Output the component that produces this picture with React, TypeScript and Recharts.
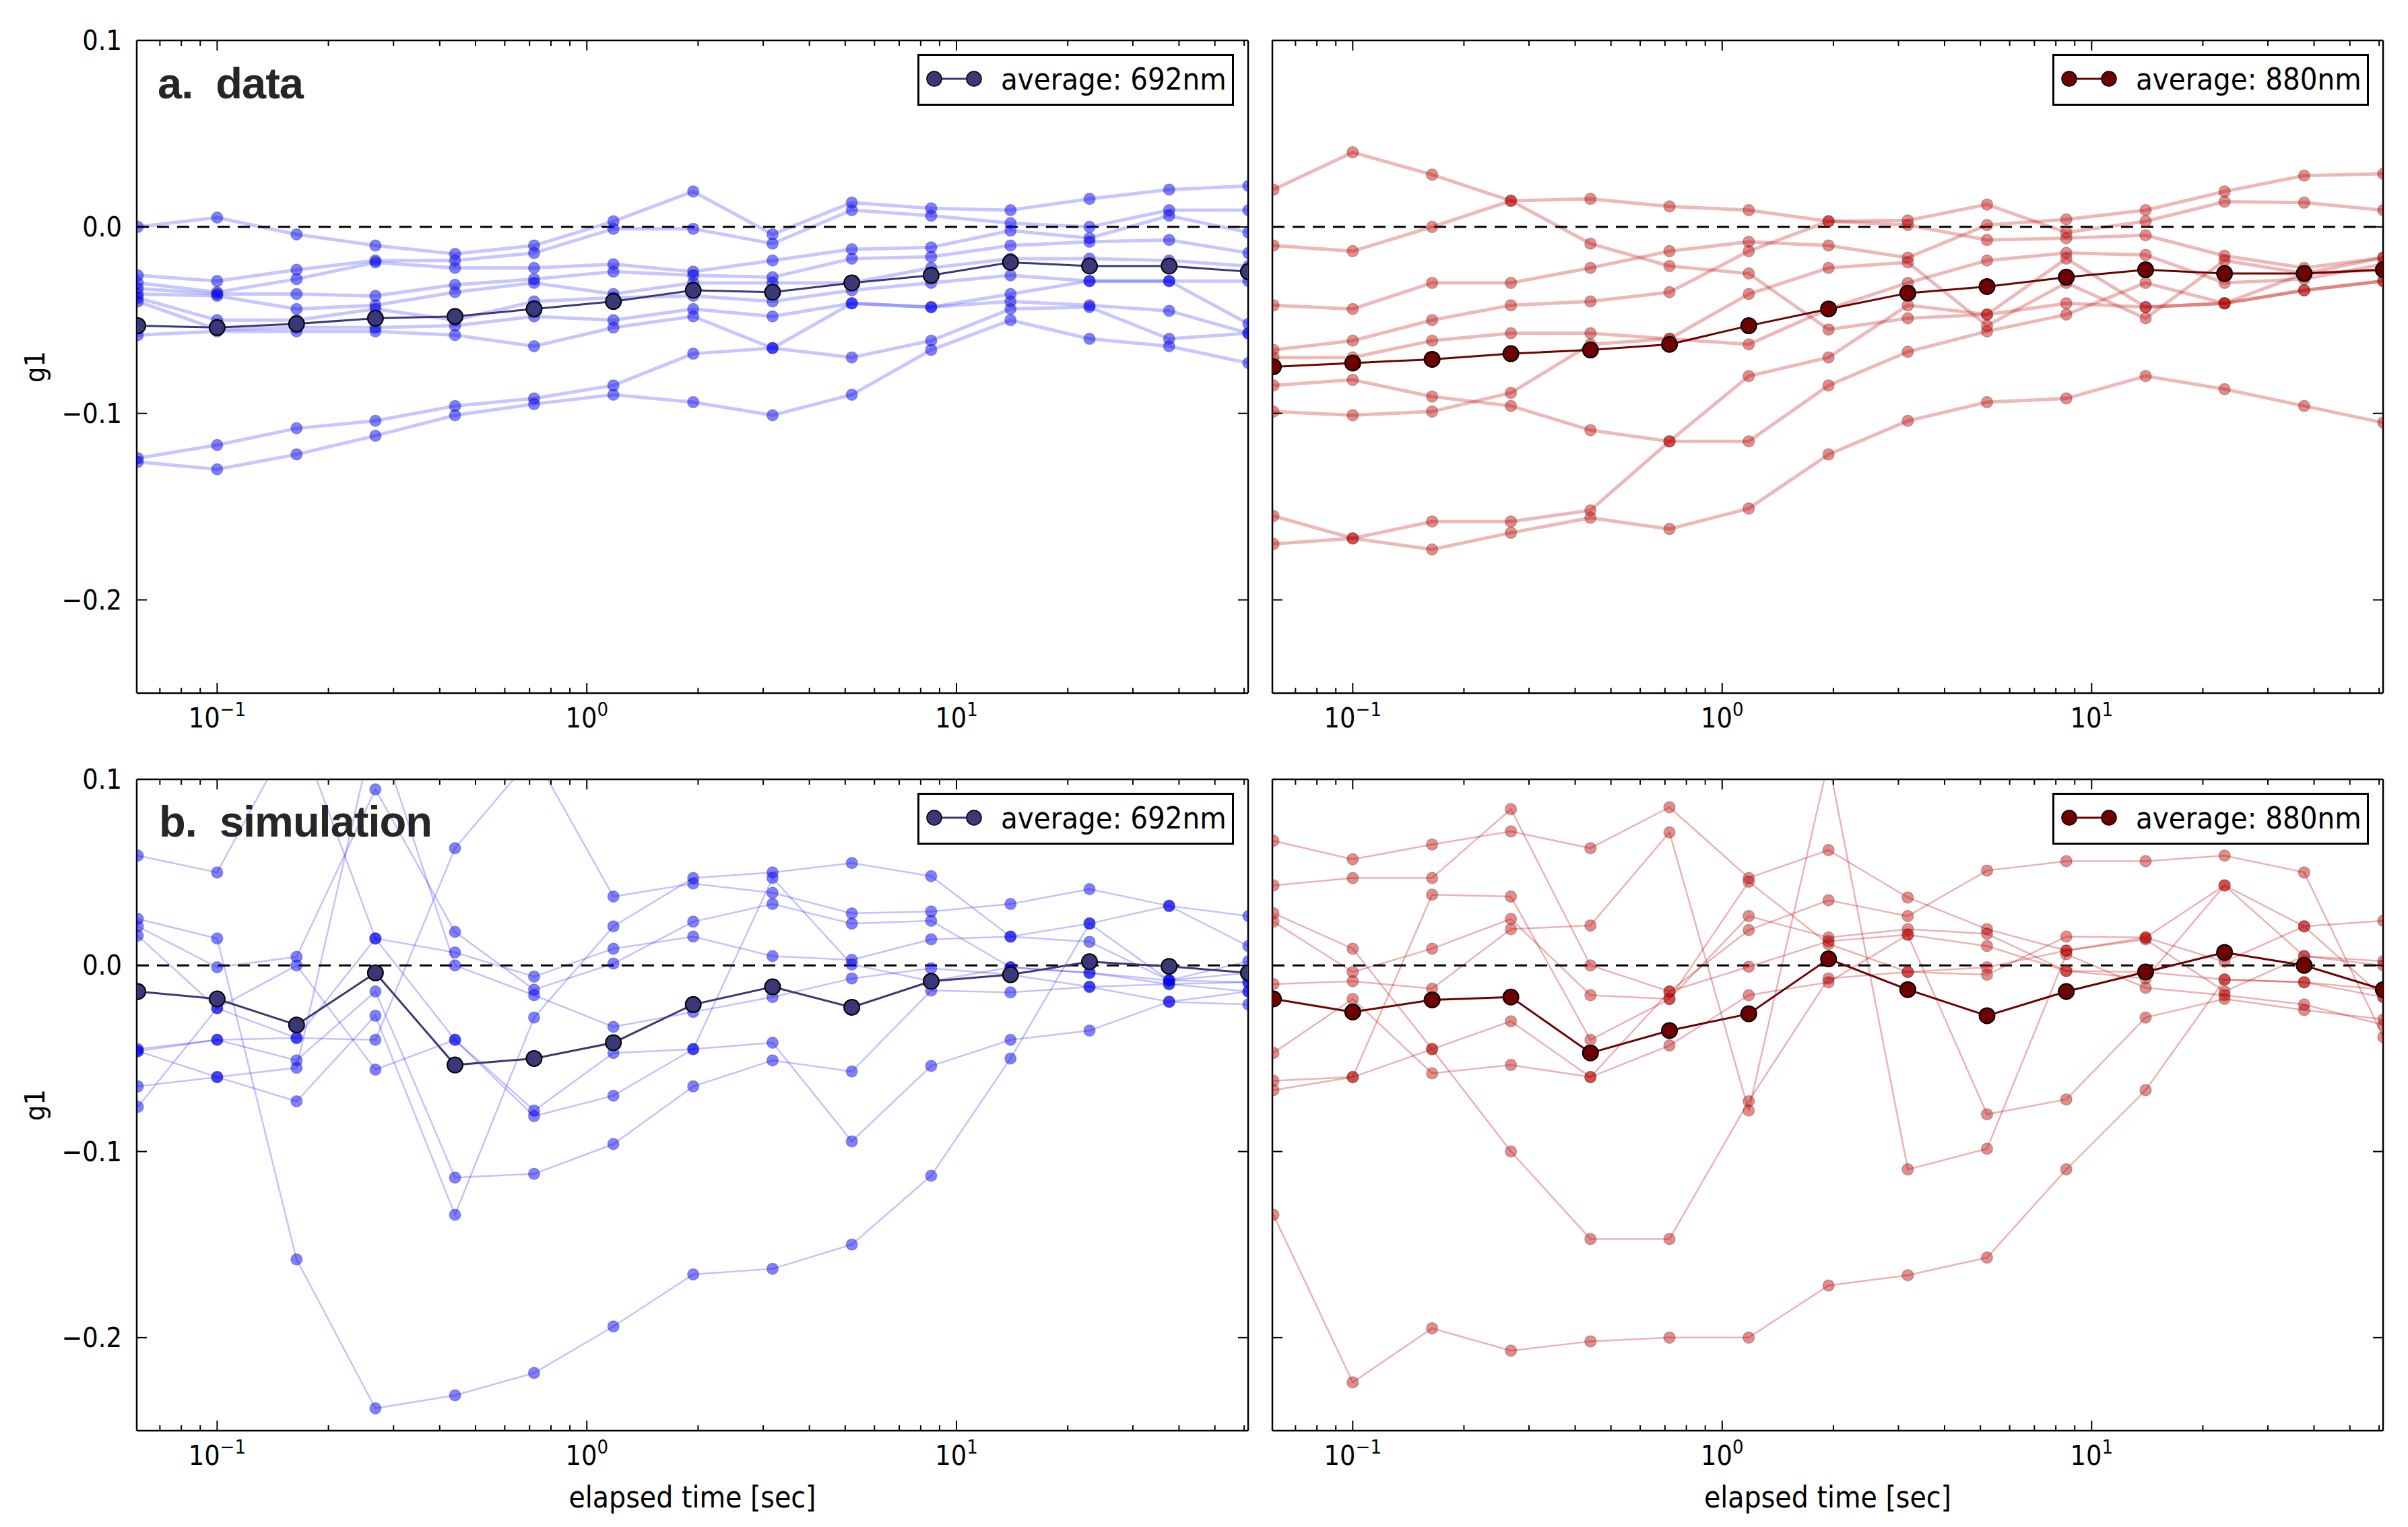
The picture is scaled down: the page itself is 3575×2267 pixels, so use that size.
import React from 'react';
import { LineChart, Line, XAxis, YAxis, ReferenceLine, Legend } from 'recharts';

// elapsed time [sec] of each sample
const times = [0.061, 0.1, 0.164, 0.268, 0.44, 0.72, 1.18, 1.94, 3.18, 5.21, 8.54, 14.0, 22.9, 37.6, 61.6];

const majorTicks = [0.1, 1, 10];
const minorTicks = [0.07, 0.08, 0.09, 0.2, 0.3, 0.4, 0.5, 0.6, 0.7, 0.8, 0.9, 2, 3, 4, 5, 6, 7, 8, 9, 20, 30, 40, 50, 60];
const yTicks = [-0.2, -0.1, 0, 0.1];

// a. data, 692nm
const dataBlueRuns = [
  [0.0, 0.005, -0.004, -0.01, -0.0145, -0.01, 0.003, 0.019, -0.004, 0.013, 0.01, 0.009, 0.015, 0.02, 0.022],
  [-0.026, -0.029, -0.023, -0.018, -0.018, -0.014, -0.001, -0.001, -0.009, 0.009, 0.006, 0.002, 0.0, 0.009, 0.009],
  [-0.03, -0.035, -0.028, -0.019, -0.022, -0.022, -0.02, -0.024, -0.018, -0.012, -0.011, -0.002, -0.006, 0.006, -0.003],
  [-0.033, -0.036, -0.036, -0.037, -0.031, -0.028, -0.024, -0.026, -0.027, -0.017, -0.016, -0.01, -0.008, -0.007, -0.014],
  [-0.036, -0.037, -0.044, -0.042, -0.035, -0.03, -0.036, -0.03, -0.03, -0.03, -0.022, -0.017, -0.017, -0.018, -0.021],
  [-0.038, -0.05, -0.05, -0.044, -0.05, -0.04, -0.038, -0.037, -0.04, -0.034, -0.03, -0.026, -0.029, -0.029, -0.029],
  [-0.04, -0.055, -0.054, -0.054, -0.053, -0.048, -0.05, -0.044, -0.048, -0.041, -0.043, -0.036, -0.029, -0.029, -0.052],
  [-0.058, -0.056, -0.056, -0.056, -0.058, -0.064, -0.054, -0.048, -0.065, -0.041, -0.043, -0.04, -0.042, -0.045, -0.057],
  [-0.124, -0.117, -0.108, -0.104, -0.096, -0.092, -0.085, -0.068, -0.065, -0.07, -0.061, -0.044, -0.043, -0.06, -0.057],
  [-0.126, -0.13, -0.122, -0.112, -0.101, -0.095, -0.09, -0.094, -0.101, -0.09, -0.066, -0.05, -0.06, -0.064, -0.073],
];
const dataBlueAvg = [-0.053, -0.054, -0.052, -0.049, -0.048, -0.044, -0.04, -0.034, -0.035, -0.03, -0.026, -0.019, -0.021, -0.021, -0.024];

// a. data, 880nm
const dataRedRuns = [
  [0.02, 0.04, 0.028, 0.014, -0.009, -0.021, -0.025, -0.055, -0.049, -0.047, -0.041, -0.043, -0.041, -0.034, -0.029],
  [-0.01, -0.013, 0.0, 0.014, 0.015, 0.011, 0.009, 0.003, 0.001, -0.007, -0.006, -0.0045, -0.0155, -0.022, -0.0165],
  [-0.042, -0.044, -0.03, -0.03, -0.022, -0.013, -0.008, -0.01, -0.0165, 0.001, 0.004, 0.009, 0.019, 0.0275, 0.0285],
  [-0.066, -0.061, -0.05, -0.042, -0.04, -0.035, -0.013, 0.003, 0.0035, 0.012, -0.003, 0.003, 0.0135, 0.013, 0.009],
  [-0.07, -0.07, -0.061, -0.057, -0.057, -0.06, -0.063, -0.044, -0.03, -0.018, -0.014, -0.015, -0.03, -0.028, -0.02],
  [-0.085, -0.082, -0.091, -0.096, -0.109, -0.115, -0.115, -0.085, -0.067, -0.056, -0.047, -0.03, -0.041, -0.025, -0.023],
  [-0.099, -0.101, -0.099, -0.089, -0.063, -0.06, -0.036, -0.022, -0.019, -0.053, -0.03, -0.049, -0.018, -0.025, -0.0165],
  [-0.155, -0.167, -0.158, -0.158, -0.152, -0.115, -0.08, -0.07, -0.042, -0.047, -0.017, -0.043, -0.041, -0.034, -0.029],
  [-0.17, -0.167, -0.173, -0.164, -0.156, -0.162, -0.151, -0.122, -0.104, -0.094, -0.092, -0.08, -0.087, -0.096, -0.105],
];
const dataRedAvg = [-0.075, -0.073, -0.071, -0.068, -0.066, -0.063, -0.053, -0.044, -0.0355, -0.032, -0.027, -0.023, -0.025, -0.025, -0.023];

// b. simulation, 692nm
const simBlueRuns = [
  [0.059, 0.05, 0.129, 0.0145, 0.007, -0.006, 0.009, 0.0155, 0.005, 0.003, 0.014, 0.0155, 0.0127, -0.008, 0.0023],
  [0.021, -0.001, 0.0046, 0.0946, 0.018, -0.013, 0.001, 0.0235, 0.033, 0.0225, 0.024, -0.001, -0.004, -0.01, -0.009],
  [-0.046, -0.06, -0.055, 0.13, 0.0, -0.016, -0.033, -0.025, -0.017, -0.007, -0.0015, -0.005, -0.0115, -0.0195, -0.014],
  [0.016, -0.023, -0.039, -0.04, 0.063, 0.113, 0.037, 0.044, 0.039, 0.028, 0.029, 0.033, 0.041, 0.032, 0.0265],
  [0.025, 0.0145, -0.158, -0.238, -0.231, -0.219, -0.194, -0.166, -0.163, -0.15, -0.113, -0.05, 0.0225, -0.008, -0.009],
  [-0.045, -0.04, -0.051, -0.014, -0.114, -0.112, -0.096, -0.065, -0.051, -0.057, -0.0135, -0.0145, -0.0115, -0.01, -0.014],
  [-0.065, -0.06, -0.073, -0.027, -0.134, -0.028, 0.021, 0.047, 0.05, 0.055, 0.048, 0.0155, 0.0225, 0.032, 0.0104],
  [-0.076, -0.023, 0.0, -0.056, -0.04, -0.078, -0.047, -0.045, -0.0415, -0.0945, -0.054, -0.04, -0.035, -0.0195, -0.021],
  [-0.046, -0.04, -0.039, 0.0145, -0.04, -0.081, -0.07, -0.045, 0.047, 0.0005, -0.0085, -0.001, -0.004, -0.008, -0.004],
];
const simBlueAvg = [-0.014, -0.018, -0.032, -0.004, -0.0535, -0.05, -0.0415, -0.021, -0.0115, -0.0225, -0.0085, -0.005, 0.002, -0.0005, -0.004];

// b. simulation, 880nm
const simRedRuns = [
  [-0.134, -0.224, -0.195, -0.207, -0.202, -0.2, -0.2, -0.172, -0.1665, -0.157, -0.1096, -0.067, -0.0076, -0.009, -0.017],
  [0.067, 0.057, 0.065, 0.072, 0.063, 0.085, 0.047, 0.062, 0.0365, 0.0195, 0.008, 0.014, -0.014, 0.005, 0.0023],
  [0.043, 0.047, 0.047, 0.084, 0.0, -0.014, 0.019, 0.035, 0.0265, 0.051, 0.056, 0.056, 0.059, 0.05, -0.0385],
  [0.028, 0.009, -0.045, -0.1, -0.147, -0.147, -0.073, -0.007, -0.0035, -0.005, 0.0155, 0.015, 0.002, 0.021, 0.024],
  [0.0235, -0.0035, 0.009, 0.025, -0.016, -0.018, 0.0265, 0.015, 0.0195, 0.017, -0.003, -0.007, 0.043, 0.005, 0.0],
  [-0.01, -0.0085, -0.0125, 0.0195, 0.0215, 0.0715, -0.078, 0.11, -0.1096, -0.0985, 0.006, -0.012, -0.016, -0.021, -0.032],
  [-0.047, -0.018, -0.058, -0.0535, -0.06, -0.043, -0.016, -0.009, 0.0165, 0.0104, -0.003, -0.0035, -0.0076, -0.009, -0.013],
  [-0.062, -0.06, 0.038, 0.037, -0.04, -0.018, 0.045, 0.0115, -0.0035, -0.001, 0.008, 0.015, 0.043, 0.021, -0.017],
  [-0.067, -0.06, -0.045, -0.03, -0.06, -0.014, -0.0007, 0.013, 0.0165, -0.08, -0.072, -0.028, -0.018, -0.024, -0.029],
];
const simRedAvg = [-0.018, -0.025, -0.0185, -0.017, -0.047, -0.035, -0.026, 0.0035, -0.013, -0.027, -0.014, -0.0035, 0.007, 0.0, -0.013];

const FONT = '"DejaVu Sans Condensed", "DejaVu Sans", sans-serif';
const TITLE_FONT = '"Liberation Sans", Arial, sans-serif';

const blue = { run: '#0000ff', avg: '#3b3878' };
const red = { run: '#c00000', avg: '#6e0000' };

function buildRows(runs, avg) {
  return times.map((t, i) => {
    const row = { t, avg: avg[i] };
    runs.forEach((r, k) => {
      row['r' + k] = r[i];
    });
    return row;
  });
}

function fmtY(v) {
  if (Math.abs(v) < 1e-9) return '0.0';
  return (v < 0 ? '\u2212' : '') + Math.abs(v).toFixed(1);
}

function XTick({ x, y, payload, side, labels }) {
  const v = payload.value;
  const major = majorTicks.some((m) => Math.abs(m - v) < 1e-9);
  const len = major ? 15 : 8;
  const y2 = side === 'bottom' ? y - len : y + len;
  const exp = Math.round(Math.log10(v));
  return (
    <g>
      <line x1={x} y1={y} x2={x} y2={y2} stroke="#000" strokeWidth={2} />
      {labels && major && (
        <text x={x} y={y + 51} textAnchor="middle" fontFamily={FONT} fontSize={41} fill="#000" style={{ fontStretch: 'condensed' }}>
          10
          <tspan dy={-17} fontSize={29}>
            {exp < 0 ? '\u2212' + -exp : String(exp)}
          </tspan>
        </text>
      )}
    </g>
  );
}

function YTick({ x, y, payload, side, labels }) {
  const dir = side === 'left' ? 1 : -1;
  return (
    <g>
      <line x1={x} y1={y} x2={x + dir * 15} y2={y} stroke="#000" strokeWidth={2} />
      {labels && (
        <text x={x - 22} y={y + 14} textAnchor="end" fontFamily={FONT} fontSize={41} fill="#000" style={{ fontStretch: 'condensed' }}>
          {fmtY(payload.value)}
        </text>
      )}
    </g>
  );
}

function LegendBox({ payload }) {
  const entry = (payload || []).find((p) => p.dataKey === 'avg');
  if (!entry) return null;
  const c = entry.color;
  return (
    <svg width={470} height={77} style={{ display: 'block' }}>
      <rect x={1.5} y={1.5} width={467} height={74} fill="#fff" stroke="#000" strokeWidth={3} />
      <line x1={25} y1={37} x2={84} y2={37} stroke={c} strokeWidth={3} />
      <circle cx={25} cy={37} r={11} fill={c} stroke="#000" strokeWidth={1.5} />
      <circle cx={84} cy={37} r={11} fill={c} stroke="#000" strokeWidth={1.5} />
      <text x={124} y={53} fontFamily={FONT} fontSize={45} fill="#000" style={{ fontStretch: 'condensed' }}>
        {entry.value}
      </text>
    </svg>
  );
}

function Panel({ runs, avg, colors, legendName, left, top, width, height, yAxisWidth, topHeight, bottomHeight, yLabels, xLabel, thick }) {
  const rows = buildRows(runs, avg);
  const runWidth = thick ? 5 : 2.5;
  const runOpacity = colors === red ? (thick ? 0.28 : 0.3) : thick ? 0.22 : 0.24;
  const legendLeft = yLabels ? 1362 : 1178;
  return (
    <div style={{ position: 'absolute', left, top }}>
      <LineChart width={width} height={height} data={rows} margin={{ top: 0, right: 6, bottom: 0, left: 0 }}>
        <XAxis
          dataKey="t"
          type="number"
          scale="log"
          domain={[0.0606, 61.5]}
          allowDataOverflow
          ticks={[...majorTicks, ...minorTicks]}
          interval={0}
          tickSize={0}
          tickMargin={0}
          tickLine={false}
          axisLine={{ stroke: '#000', strokeWidth: 2.5 }}
          height={bottomHeight}
          tick={(p) => <XTick {...p} side="bottom" labels />}
          label={
            xLabel
              ? (p) => {
                  const vb = p.viewBox;
                  return (
                    <text x={vb.x + vb.width / 2} y={vb.y + 114} textAnchor="middle" fontFamily={FONT} fontSize={44} fill="#000" style={{ fontStretch: 'condensed' }}>
                      {xLabel}
                    </text>
                  );
                }
              : undefined
          }
        />
        <XAxis
          xAxisId="top"
          orientation="top"
          dataKey="t"
          type="number"
          scale="log"
          domain={[0.0606, 61.5]}
          allowDataOverflow
          ticks={[...majorTicks, ...minorTicks]}
          interval={0}
          tickSize={0}
          tickMargin={0}
          tickLine={false}
          axisLine={{ stroke: '#000', strokeWidth: 2.5 }}
          height={topHeight}
          tick={(p) => <XTick {...p} side="top" labels={false} />}
        />
        <YAxis
          type="number"
          domain={[-0.25, 0.1]}
          allowDataOverflow
          ticks={yTicks}
          interval={0}
          tickSize={0}
          tickMargin={0}
          tickLine={false}
          axisLine={{ stroke: '#000', strokeWidth: 2.5 }}
          width={yAxisWidth}
          tick={(p) => <YTick {...p} side="left" labels={yLabels} />}
          label={
            yLabels
              ? (p) => {
                  const vb = p.viewBox;
                  const cx = vb.x + 52;
                  const cy = vb.y + vb.height / 2;
                  return (
                    <text x={cx} y={cy} transform={`rotate(-90 ${cx} ${cy})`} textAnchor="middle" dominantBaseline="central" fontFamily={FONT} fontSize={41} fill="#000" style={{ fontStretch: 'condensed' }}>
                      g1
                    </text>
                  );
                }
              : undefined
          }
        />
        <YAxis
          yAxisId="right"
          orientation="right"
          type="number"
          domain={[-0.25, 0.1]}
          allowDataOverflow
          ticks={yTicks}
          interval={0}
          tickSize={0}
          tickMargin={0}
          tickLine={false}
          axisLine={{ stroke: '#000', strokeWidth: 2.5 }}
          width={1}
          tick={(p) => <YTick {...p} side="right" labels={false} />}
        />
        {runs.map((_, k) => (
          <Line
            key={k}
            dataKey={'r' + k}
            type="linear"
            stroke={colors.run}
            strokeOpacity={runOpacity}
            strokeWidth={runWidth}
            dot={{ r: 8.5, fill: colors.run, fillOpacity: colors === red ? 0.45 : 0.5, stroke: '#202020', strokeOpacity: 0.25, strokeWidth: 1.5 }}
            activeDot={false}
            legendType="none"
            isAnimationActive={false}
          />
        ))}
        <ReferenceLine y={0} stroke="#000" strokeWidth={3} strokeDasharray="18 12" />
        <Line
          dataKey="avg"
          name={legendName}
          type="linear"
          stroke={colors.avg}
          strokeWidth={3}
          dot={{ r: 11.5, fill: colors.avg, fillOpacity: 1, stroke: '#000', strokeWidth: 2 }}
          activeDot={false}
          isAnimationActive={false}
        />
        <Legend
          layout="vertical"
          align="center"
          verticalAlign="middle"
          wrapperStyle={{ left: legendLeft, top: topHeight + 20, width: 470, height: 77 }}
          content={(p) => <LegendBox payload={p.payload} />}
        />
      </LineChart>
    </div>
  );
}

function PanelTitle({ left, top, text }) {
  return (
    <div
      style={{
        position: 'absolute',
        left,
        top,
        fontFamily: TITLE_FONT,
        fontWeight: 'bold',
        fontSize: 65,
        lineHeight: 1,
        color: '#262626',
        whiteSpace: 'pre',
        letterSpacing: -1,
      }}
    >
      {text}
    </div>
  );
}

export default function App() {
  return (
    <div style={{ position: 'absolute', left: 0, top: 0, width: 3575, height: 2267, background: '#fff' }}>
      <Panel runs={dataBlueRuns} avg={dataBlueAvg} colors={blue} legendName="average: 692nm" left={0} top={20} width={1860} height={1089} yAxisWidth={203} topHeight={40} bottomHeight={80} yLabels thick />
      <Panel runs={dataRedRuns} avg={dataRedAvg} colors={red} legendName="average: 880nm" left={1869} top={20} width={1676} height={1089} yAxisWidth={20} topHeight={40} bottomHeight={80} yLabels={false} thick />
      <Panel runs={simBlueRuns} avg={simBlueAvg} colors={blue} legendName="average: 692nm" left={0} top={1117} width={1860} height={1137} yAxisWidth={203} topHeight={40} bottomHeight={130} yLabels xLabel="elapsed time [sec]" thick={false} />
      <Panel runs={simRedRuns} avg={simRedAvg} colors={red} legendName="average: 880nm" left={1869} top={1117} width={1676} height={1137} yAxisWidth={20} topHeight={40} bottomHeight={130} yLabels={false} xLabel="elapsed time [sec]" thick={false} />
      <PanelTitle left={234} top={91} text={'a.  data'} />
      <PanelTitle left={236} top={1187} text={'b.  simulation'} />
    </div>
  );
}
